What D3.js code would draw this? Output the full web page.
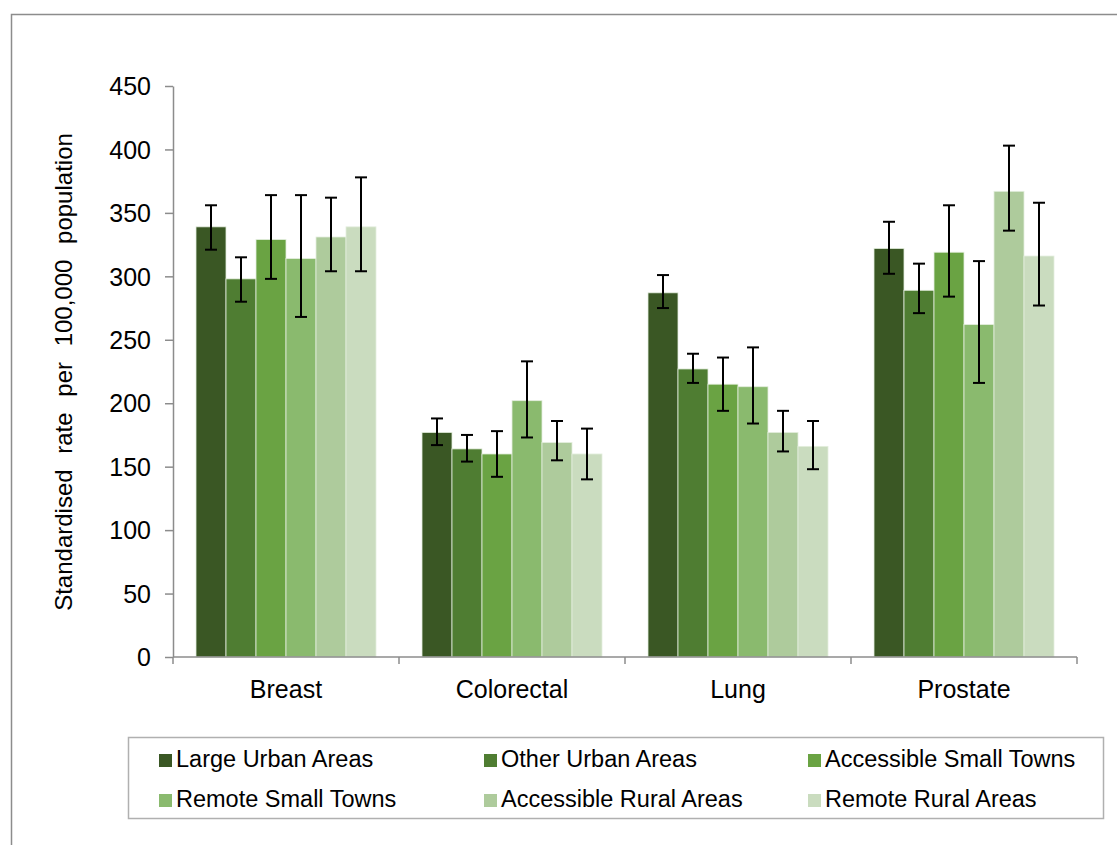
<!DOCTYPE html>
<html>
<head>
<meta charset="utf-8">
<script src="https://cdn.jsdelivr.net/npm/d3@7"></script>
<style>
  body { margin: 0; background: #fff; }
  svg { font-family: "Liberation Sans", Arial, sans-serif; }
</style>
</head>
<body>
<svg id="chart" width="1117" height="845"></svg>
<script>
const cancers = ['Breast', 'Colorectal', 'Lung', 'Prostate'];
const areas = ['Large Urban Areas', 'Other Urban Areas', 'Accessible Small Towns',
  'Remote Small Towns', 'Accessible Rural Areas', 'Remote Rural Areas'];
const colors = ['#3a5724', '#4f7d32', '#6aa343', '#8aba6e', '#aecb9c', '#cadcbf'];
const yTicks = [0, 50, 100, 150, 200, 250, 300, 350, 400, 450];

// rates per area, one entry per cancer
const rates = [
  [339, 177, 287, 322],
  [298, 164, 227, 289],
  [329, 160, 215, 319],
  [314, 202, 213, 262],
  [331, 169, 177, 367],
  [339, 160, 166, 316]
];
const lower = [
  [321, 167, 275, 302],
  [280, 154, 216, 271],
  [298, 142, 194, 284],
  [268, 173, 184, 216],
  [304, 155, 162, 336],
  [304, 140, 148, 277]
];
const upper = [
  [356, 188, 301, 343],
  [315, 175, 239, 310],
  [364, 178, 236, 356],
  [364, 233, 244, 312],
  [362, 186, 194, 403],
  [378, 180, 186, 358]
];

const svg = d3.select('#chart');
const plotLeft = 173, plotRight = 1077, plotTop = 86, plotBottom = 657;

// outer frame
svg.append('rect')
  .attr('x', 11.5).attr('y', 14.5)
  .attr('width', 1120).attr('height', 840)
  .attr('fill', 'none').attr('stroke', '#8c8c8c').attr('stroke-width', 1.5);

const y = d3.scaleLinear().domain([0, 450]).range([plotBottom, plotTop]);
const x0 = d3.scaleBand().domain(cancers).range([plotLeft, plotRight]);
const x1 = d3.scaleBand().domain(d3.range(areas.length))
  .range([23, x0.bandwidth() - 23]);

// y axis
const yAxis = svg.append('g')
  .attr('transform', `translate(${plotLeft},0)`)
  .call(d3.axisLeft(y).tickValues(yTicks).tickSize(8).tickPadding(14).tickSizeOuter(0));
yAxis.select('.domain').attr('stroke', '#8c8c8c').attr('stroke-width', 1.5);
yAxis.selectAll('.tick line').attr('stroke', '#8c8c8c').attr('stroke-width', 1.5);
yAxis.selectAll('.tick text').attr('font-size', 25).attr('fill', '#000')
  .attr('dy', '0.35em')
  .attr('font-family', '"Liberation Sans", Arial, sans-serif');

// bars
const groups = svg.append('g').selectAll('g')
  .data(cancers)
  .join('g')
  .attr('transform', d => `translate(${x0(d)},0)`);

groups.each(function(c, ci) {
  const g = d3.select(this);
  areas.forEach((a, ai) => {
    const v = rates[ai][ci];
    g.append('rect')
      .attr('x', x1(ai))
      .attr('y', y(v))
      .attr('width', x1.bandwidth())
      .attr('height', y(0) - y(v))
      .attr('fill', colors[ai])
      .attr('stroke', '#e4eede')
      .attr('stroke-width', 0.8);
  });
  areas.forEach((a, ai) => {
    const cx = x1(ai) + x1.bandwidth() / 2;
    const lo = y(lower[ai][ci]), hi = y(upper[ai][ci]);
    g.append('line').attr('x1', cx).attr('x2', cx).attr('y1', lo).attr('y2', hi)
      .attr('stroke', '#000').attr('stroke-width', 2);
    [lo, hi].forEach(p => {
      g.append('line').attr('x1', cx - 6).attr('x2', cx + 6).attr('y1', p).attr('y2', p)
        .attr('stroke', '#000').attr('stroke-width', 2);
    });
  });
});

// x axis
const xAxisG = svg.append('g').attr('transform', `translate(0,${plotBottom})`);
xAxisG.append('line').attr('x1', plotLeft).attr('x2', plotRight)
  .attr('stroke', '#8c8c8c').attr('stroke-width', 1.5);
const xBounds = cancers.map(c => x0(c)).concat([plotRight]);
xAxisG.selectAll('.xt').data(xBounds).join('line')
  .attr('class', 'xt')
  .attr('x1', d => d).attr('x2', d => d).attr('y1', 0).attr('y2', 7)
  .attr('stroke', '#8c8c8c').attr('stroke-width', 1.5);
xAxisG.selectAll('.xl').data(cancers).join('text')
  .attr('class', 'xl')
  .attr('x', d => x0(d) + x0.bandwidth() / 2)
  .attr('y', 41)
  .attr('text-anchor', 'middle')
  .attr('font-size', 25)
  .text(d => d);

// y title
svg.append('text')
  .attr('transform', `translate(72,${(131 + 613) / 2}) rotate(-90)`)
  .attr('text-anchor', 'middle')
  .attr('font-size', 24)
  .attr('word-spacing', 9)
  .text('Standardised rate per 100,000 population');

// legend
const legend = svg.append('g');
legend.append('rect')
  .attr('x', 128.5).attr('y', 737.5).attr('width', 975).attr('height', 81)
  .attr('fill', '#fff').attr('stroke', '#b0b0b0').attr('stroke-width', 1.5);
const colX = [159, 484, 808];
const rowY = [767, 807];
areas.forEach((a, i) => {
  const lx = colX[i % 3], ly = rowY[Math.floor(i / 3)];
  legend.append('rect')
    .attr('x', lx).attr('y', ly - 13).attr('width', 13).attr('height', 13)
    .attr('fill', colors[i]);
  legend.append('text')
    .attr('x', lx + 17).attr('y', ly)
    .attr('font-size', 23.5)
    .text(a);
});
</script>
</body>
</html>
